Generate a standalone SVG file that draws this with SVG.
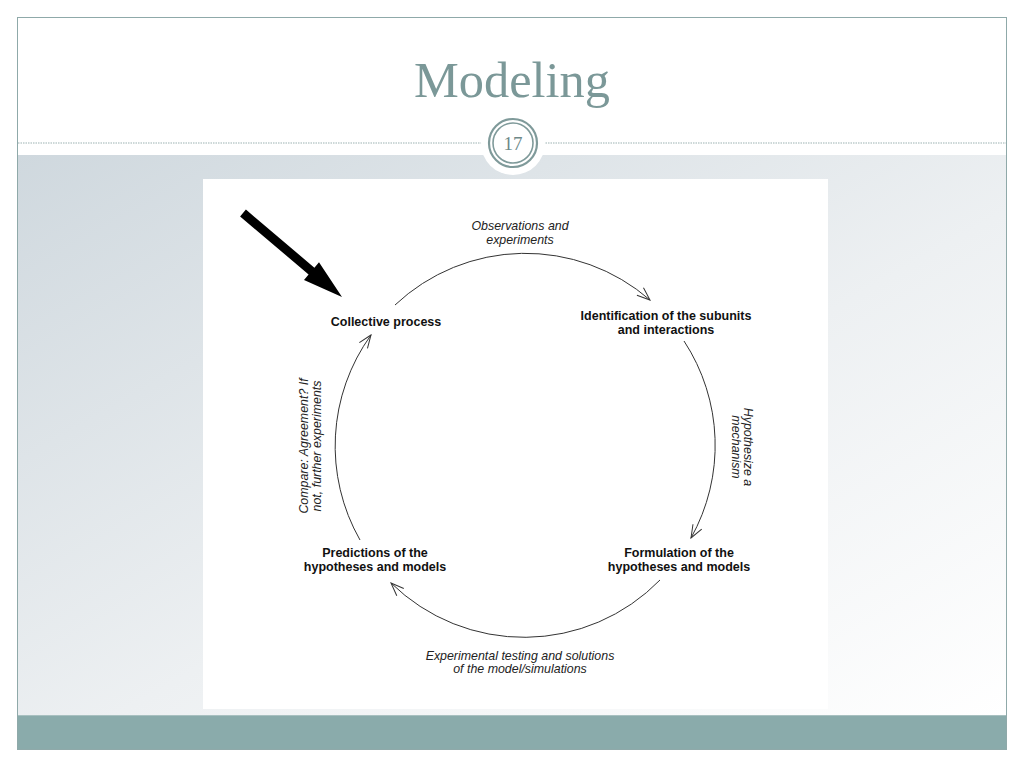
<svg xmlns="http://www.w3.org/2000/svg" width="1024" height="768" viewBox="0 0 1024 768">
<defs>
<linearGradient id="bg" x1="0" y1="0" x2="1" y2="1">
<stop offset="0" stop-color="#cfd8de"/>
<stop offset="0.55" stop-color="#edf0f2"/>
<stop offset="1" stop-color="#ffffff"/>
</linearGradient>
<marker id="ah" viewBox="-14 -7 15 14" refX="0" refY="0" markerWidth="15" markerHeight="14" markerUnits="userSpaceOnUse" orient="auto">
<path d="M-13,-5 L0,0 L-13,5" fill="none" stroke="#333" stroke-width="1"/>
</marker>
<style>
.node{font-family:"Liberation Sans",Arial,sans-serif;font-weight:bold;font-size:12.5px;fill:#111;text-anchor:middle}
.lbl{font-family:"Liberation Sans",Arial,sans-serif;font-style:italic;font-size:12.4px;fill:#222;text-anchor:middle}
.arc{fill:none;stroke:#333;stroke-width:1;marker-end:url(#ah)}
</style>
</defs>
<rect width="1024" height="768" fill="#ffffff"/>
<rect x="17" y="155" width="990" height="560" fill="url(#bg)"/>
<rect x="17" y="715" width="990" height="35" fill="#8aabab"/>
<line x1="17" y1="715.5" x2="1007" y2="715.5" stroke="#a8c0c0" stroke-width="1"/>
<rect x="17.5" y="17.5" width="989" height="732" fill="none" stroke="#8fa9a9" stroke-width="1"/>
<text x="512" y="97" font-family="Liberation Serif,'Times New Roman',serif" font-size="50" fill="#7b9898" text-anchor="middle" textLength="196" lengthAdjust="spacingAndGlyphs">Modeling</text>
<line x1="18" y1="143" x2="1006" y2="143" stroke="#9bb1b1" stroke-width="1" stroke-dasharray="1.5,1"/>
<g id="badge">
<circle cx="513" cy="143" r="32" fill="#ffffff"/>
<circle cx="513" cy="143" r="24" fill="none" stroke="#7f9a9a" stroke-width="2.2"/>
<circle cx="513" cy="143" r="20" fill="none" stroke="#7f9a9a" stroke-width="1.6"/>
<text x="513" y="150" font-family="Liberation Serif,'Times New Roman',serif" font-size="19" fill="#6d8888" text-anchor="middle">17</text>
</g>
<rect x="203" y="179" width="625" height="530" fill="#ffffff"/>
<g id="connectors">
<path class="arc" d="M395,305 A190,190 0 0 1 650,300"/>
<path class="arc" d="M684,341 A190,190 0 0 1 691,538"/>
<path class="arc" d="M660,580 A190,190 0 0 1 391,583"/>
<path class="arc" d="M360,540 A190,190 0 0 1 371,335"/>
<polygon points="245.9,209.6 314.4,267.7 319,262.3 342,297 304,279.9 308.6,274.5 240.1,216.4" fill="#000"/>
</g>
<g id="edge-labels">
<text class="lbl" x="520" y="230">Observations and</text>
<text class="lbl" x="520" y="244">experiments</text>
<g transform="translate(744,447) rotate(90)">
<text class="lbl" x="0" y="0">Hypothesize a</text>
<text class="lbl" x="0" y="12">mechanism</text>
</g>
<text class="lbl" x="520" y="660">Experimental testing and solutions</text>
<text class="lbl" x="520" y="673">of the model/simulations</text>
<g transform="translate(308,446) rotate(-90)">
<text class="lbl" x="0" y="0">Compare: Agreement? If</text>
<text class="lbl" x="0" y="12.5">not, further experiments</text>
</g>
</g>
<g id="n-collective"><text class="node" x="386" y="326">Collective process</text></g>
<g id="n-identification"><text class="node" x="666" y="320">Identification of the subunits</text><text class="node" x="666" y="334">and interactions</text></g>
<g id="n-formulation"><text class="node" x="679" y="557">Formulation of the</text><text class="node" x="679" y="571">hypotheses and models</text></g>
<g id="n-predictions"><text class="node" x="375" y="557">Predictions of the</text><text class="node" x="375" y="571">hypotheses and models</text></g>
</svg>
